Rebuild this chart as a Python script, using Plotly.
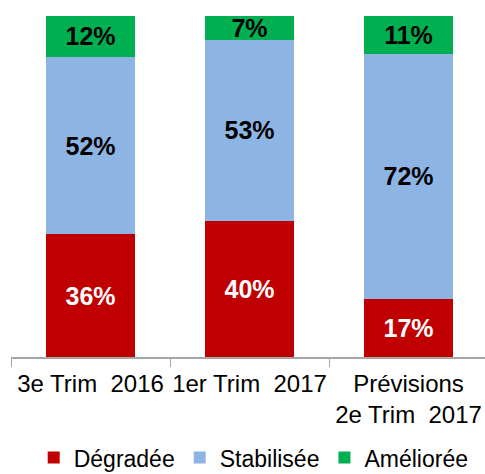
import plotly.graph_objects as go

categories = ["3e Trim\u00a0\u00a02016", "1er Trim\u00a0\u00a02017", "Prévisions<br>2e Trim\u00a0\u00a02017"]
degradee = [36, 40, 17]
stabilisee = [52, 53, 72]
amelioree = [12, 7, 11]

series = [
    ("Dégradée", degradee, "#C00000", "white"),
    ("Stabilisée", stabilisee, "#8EB4E3", "black"),
    ("Améliorée", amelioree, "#00B050", "black"),
]

fig = go.Figure()
for name, vals, color, tcolor in series:
    fig.add_trace(go.Bar(
        x=categories, y=vals, name=name,
        marker=dict(color=color, line=dict(width=0)),
        text=[f"{v}%" for v in vals],
        textposition="inside", insidetextanchor="middle",
        textfont=dict(color=tcolor, size=25, family="Arial, Liberation Sans", weight="bold"),
        cliponaxis=False,
    ))

fig.update_layout(
    barmode="stack",
    bargap=0.44,
    width=485, height=474,
    margin=dict(l=11, r=0, t=16, b=117, autoexpand=False),
    plot_bgcolor="white", paper_bgcolor="white",
    font=dict(family="Arial, Liberation Sans", size=24, color="black"),
    uniformtext=dict(minsize=25, mode="show"),
    legend=dict(orientation="h", x=0.512, xanchor="center", y=-0.295, yanchor="middle",
                font=dict(size=23), itemwidth=30, traceorder="normal"),
    showlegend=True,
)
fig.update_xaxes(
    range=[-0.5, 2.481],
    automargin=False,
    tickangle=0,
    showline=True, linecolor="#A6A6A6", linewidth=1.5,
    ticks="outside", tickson="boundaries", ticklen=8, tickcolor="#A6A6A6",
    ticklabelstandoff=4,
    showgrid=False,
    tickfont=dict(size=24),
)
fig.update_yaxes(range=[0, 100], visible=False, showgrid=False, automargin=False)

fig.write_html(
    "out.html",
    config={"displayModeBar": False},
    post_script="document.body.style.margin='0';document.body.style.overflow='hidden';",
)
